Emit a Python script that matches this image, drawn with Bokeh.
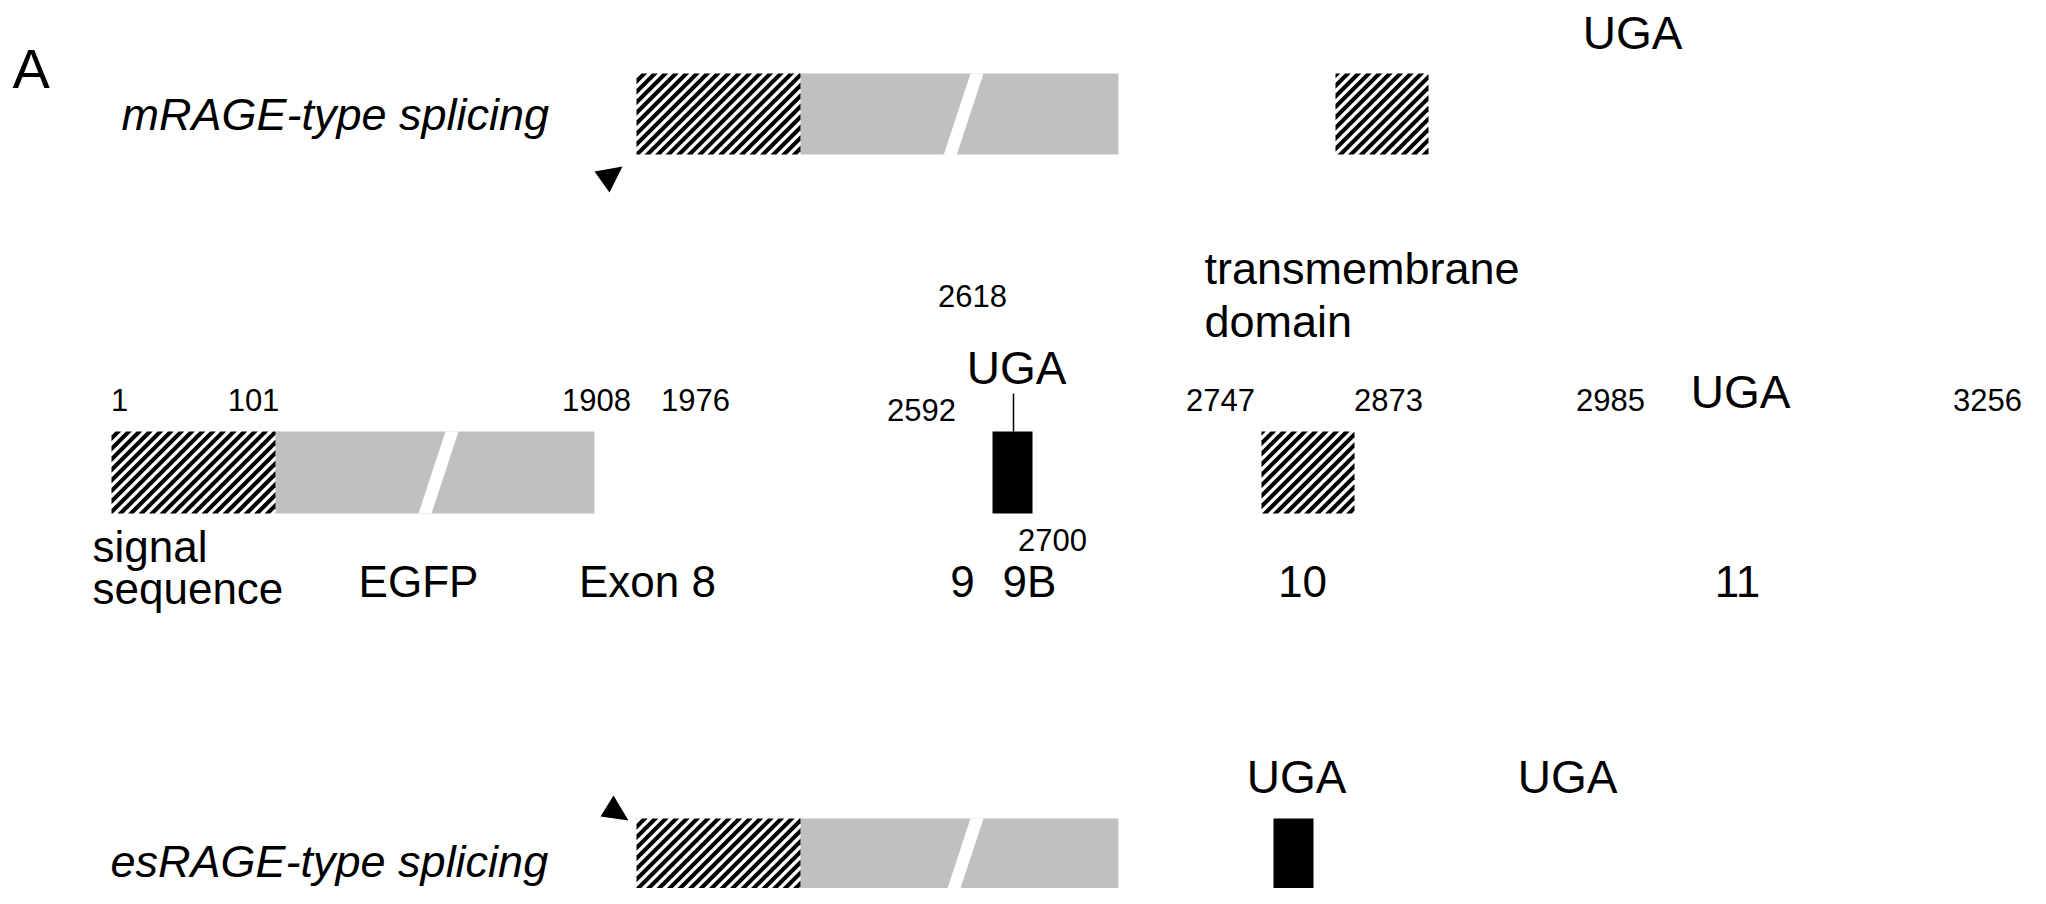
from bokeh.plotting import figure
from bokeh.models import Range1d
from bokeh.core.properties import value
from bokeh.embed import file_html
from bokeh.resources import INLINE

FONT = value("Liberation Sans")

# ---------------- data ----------------
row_names = ["mRAGE-type splicing", "construct", "esRAGE-type splicing"]
row_top = [73, 431, 818]
row_bottom = [154, 513, 888]

# hatched boxes (signal sequence / transmembrane domain)
hatch_row = [0, 0, 1, 1, 2]
hatch_left = [636, 1335, 111, 1261, 636]
hatch_right = [800, 1428, 275, 1354, 800]

# grey boxes (EGFP + exon 8, broken)
gray_row = [0, 1, 2]
gray_left = [800, 275, 800]
gray_right = [1118, 594, 1118]

# black boxes (exon 9B)
black_row = [1, 2]
black_left = [992, 1273]
black_right = [1032, 1313]

# nucleotide positions above the construct
pos_labels = ["1", "101", "1908", "1976", "2747", "2873", "2985", "3256"]
pos_x = [119, 253, 596, 695, 1220, 1388, 1610, 1987]
pos_y = [399] * 8
extra_pos_labels = ["2618", "2592", "2700"]
extra_pos_x = [972, 921, 1052]
extra_pos_y = [295, 409, 539]

# exon / region labels below the construct
region_labels = ["EGFP", "Exon 8", "9", "9B", "10", "11"]
region_x = [418, 647, 962, 1029, 1302, 1737]
region_y = [581] * 6

# stop codons
uga_text = ["UGA", "UGA", "UGA", "UGA", "UGA"]
uga_x = [1632, 1016, 1740, 1296, 1567]
uga_y = [32, 367, 391, 776, 776]

# ---------------- figure ----------------
p = figure(width=2030, height=888, x_range=Range1d(0, 2030), y_range=Range1d(888, 0),
           output_backend="svg", toolbar_location=None, min_border=0)
p.axis.visible = False
p.grid.visible = False
p.outline_line_color = None
p.background_fill_color = "white"
p.border_fill_color = "white"

GRAY = "#bfc0bf"


def clip(poly, a, b, c):
    """keep the part of a convex polygon where a*x + b*y <= c"""
    out = []
    n = len(poly)
    for i in range(n):
        x1, y1 = poly[i]
        x2, y2 = poly[(i + 1) % n]
        f1 = a * x1 + b * y1 - c
        f2 = a * x2 + b * y2 - c
        if f1 <= 0:
            out.append((x1, y1))
        if (f1 < 0 < f2) or (f2 < 0 < f1):
            t = f1 / (f1 - f2)
            out.append((x1 + t * (x2 - x1), y1 + t * (y2 - y1)))
    return out


def stripes(L, R, T, B, period=10.5, width=5.8):
    xs, ys = [], []
    rect = [(L, T), (R, T), (R, B), (L, B)]
    lo, hi = L + T, R + B
    k = int(lo // period) - 1
    while k * period < hi:
        c = k * period
        poly = clip(rect, -1, -1, -c)          # x + y >= c
        poly = clip(poly, 1, 1, c + width)     # x + y <= c + width
        if len(poly) >= 3:
            xs.append([q[0] for q in poly])
            ys.append([q[1] for q in poly])
        k += 1
    return xs, ys


# grey boxes
p.quad(left=gray_left, right=gray_right,
       top=[row_top[r] for r in gray_row], bottom=[row_bottom[r] for r in gray_row],
       fill_color=GRAY, line_color=None)

# white slash breaking the grey boxes
sx, sy = [], []
for l, r in zip(gray_left, gray_row):
    t = row_top[r]
    b = t + 82
    sx.append([l + 170, l + 183, l + 156, l + 143])
    sy.append([t, t, b, b])
p.patches(xs=sx, ys=sy, fill_color="white", line_color=None)

# hatched boxes
hx, hy = [], []
for l, rr, r in zip(hatch_left, hatch_right, hatch_row):
    a, b = stripes(l, rr, row_top[r], row_bottom[r])
    hx += a
    hy += b
p.patches(xs=hx, ys=hy, fill_color="black", line_color=None)

# black boxes
p.quad(left=black_left, right=black_right,
       top=[row_top[r] for r in black_row], bottom=[row_bottom[r] for r in black_row],
       fill_color="black", line_color=None)

# UGA tick on exon 9B
p.segment(x0=[1013], y0=[393], x1=[1013], y1=[row_top[1]], line_color="black", line_width=1.5)

# triangles (primer marks)
p.patches(xs=[[594, 622, 609], [613, 600, 628]], ys=[[171, 166, 192], [795, 816, 820]],
          fill_color="black", line_color=None)

# ---------------- texts ----------------
p.text(x=[12], y=[68], text=["A"], text_font=FONT, text_font_size="56px",
       text_baseline="alphabetic", text_align="left", text_color="black")

p.text(x=[121, 110], y=[114, 861], text=[row_names[0], row_names[2]], text_font=FONT,
       text_font_size="45px", text_font_style="italic",
       text_baseline="alphabetic", text_align="left", text_color="black")

p.text(x=pos_x, y=pos_y, text=pos_labels, text_font=FONT, text_font_size="31px",
       text_baseline="alphabetic", text_align="center", text_color="black")
p.text(x=extra_pos_x, y=extra_pos_y, text=extra_pos_labels, text_font=FONT, text_font_size="31px",
       text_baseline="alphabetic", text_align="center", text_color="black")

p.text(x=region_x, y=region_y, text=region_labels, text_font=FONT, text_font_size="44px",
       text_baseline="alphabetic", text_align="center", text_color="black")

p.text(x=[92, 92], y=[546, 588], text=["signal", "sequence"], text_font=FONT,
       text_font_size="44px", text_baseline="alphabetic", text_align="left", text_color="black")

p.text(x=[1204, 1204], y=[268, 321], text=["transmembrane", "domain"], text_font=FONT,
       text_font_size="45px", text_baseline="alphabetic", text_align="left", text_color="black")

p.text(x=uga_x, y=uga_y, text=uga_text, text_font=FONT, text_font_size="46px",
       text_baseline="alphabetic", text_align="center", text_color="black")

open("out.html", "w").write(file_html(p, INLINE))
